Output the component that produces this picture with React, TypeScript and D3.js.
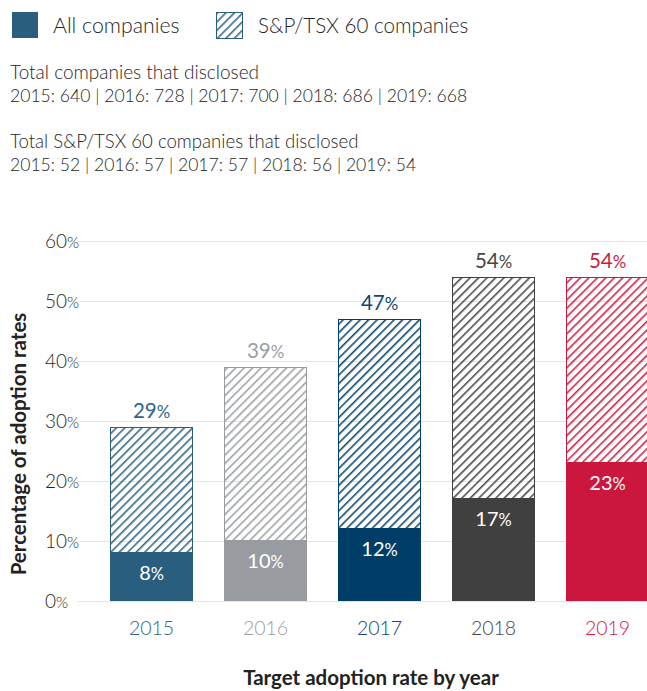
import React from "react";
import * as d3 from "d3";

const years = ["2015", "2016", "2017", "2018", "2019"];
const allCompanies = [8, 10, 12, 17, 23];
const tsx60Companies = [29, 39, 47, 54, 54];
const totalDisclosed = [640, 728, 700, 686, 668];
const tsxDisclosed = [52, 57, 57, 56, 54];
const yTicks = [0, 10, 20, 30, 40, 50, 60];

const fillColor: Record<string, string> = {
  "2015": "#2a5e7f",
  "2016": "#989ca0",
  "2017": "#003e68",
  "2018": "#404040",
  "2019": "#cb173d",
};
const textColor: Record<string, string> = {
  "2015": "#2f6588",
  "2016": "#9a9ea1",
  "2017": "#124670",
  "2018": "#464646",
  "2019": "#d01c43",
};

const W = 647;
const H = 691;
const FONT = "Lato, 'Open Sans', sans-serif";
const HATCH = 6;

function Pct({ v, size }: { v: number; size: number }) {
  return (
    <>
      {v}
      <tspan fontSize={size * 0.82}>%</tspan>
    </>
  );
}

export default function App() {
  const y = d3.scaleLinear().domain([0, 60]).range([601, 241]);
  const x = d3
    .scaleBand<string>()
    .domain(years)
    .range([94.5, 664.5])
    .paddingInner(0.272)
    .paddingOuter(0.136);
  const bw = x.bandwidth();

  const line1 = years.map((yr, i) => `${yr}: ${totalDisclosed[i]}`).join(" | ");
  const line2 = years.map((yr, i) => `${yr}: ${tsxDisclosed[i]}`).join(" | ");

  return (
    <svg
      width={W}
      height={H}
      style={{ position: "absolute", left: 0, top: 0, background: "#fff" }}
      fontFamily={FONT}
    >
      <defs>
        {years.map((yr) => (
          <pattern
            key={yr}
            id={`hatch-${yr}`}
            patternUnits="userSpaceOnUse"
            width={HATCH}
            height={HATCH}
            patternTransform="rotate(45)"
          >
            <line x1={0.8} y1={0} x2={0.8} y2={HATCH} stroke={fillColor[yr]} strokeWidth={1.5} />
          </pattern>
        ))}
      </defs>

      {/* Legend */}
      <rect x={12} y={12} width={26} height={26} fill={fillColor["2015"]} />
      <text x={53} y={33} fontSize={21.3} fill="#262626" fontWeight={300}>
        All companies
      </text>
      <rect x={216.5} y={12.5} width={26} height={26} fill="url(#hatch-2015)" stroke={fillColor["2015"]} strokeWidth={1} />
      <text x={258} y={33} fontSize={20.6} fill="#262626" fontWeight={300}>
        S&amp;P/TSX 60 companies
      </text>

      {/* Header notes */}
      <g fill="#262626" fontWeight={300}>
        <text x={10} y={79} fontSize={19}>Total companies that disclosed</text>
        <text x={10} y={102} fontSize={17.6}>{line1}</text>
        <text x={10} y={148} fontSize={18.6}>Total S&amp;P/TSX 60 companies that disclosed</text>
        <text x={10} y={171} fontSize={17.6}>{line2}</text>
      </g>

      {/* Gridlines + y ticks */}
      {yTicks.map((t) => (
        <g key={t}>
          <line x1={78} x2={W} y1={y(t) + 0.5} y2={y(t) + 0.5} stroke="#e4e4e4" strokeWidth={1} />
          <text x={45} y={y(t) + 7} fontSize={19} fill="#1e1e1e" fontWeight={300}>
            <Pct v={t} size={19} />
          </text>
        </g>
      ))}

      {/* Bars */}
      {years.map((yr, i) => {
        const x0 = x(yr)!;
        const cx = x0 + bw / 2;
        const yTot = y(tsx60Companies[i]);
        const yAll = y(allCompanies[i]);
        return (
          <g key={yr}>
            <rect
              x={x0 + 0.5}
              y={yTot + 0.5}
              width={bw - 1}
              height={yAll - yTot - 1}
              fill={`url(#hatch-${yr})`}
              stroke={fillColor[yr]}
              strokeWidth={1}
            />
            <rect x={x0} y={yAll} width={bw} height={y(0) - yAll} fill={fillColor[yr]} />
            <text x={cx} y={yTot - 9} textAnchor="middle" fontSize={20.5} fill={textColor[yr]}>
              <Pct v={tsx60Companies[i]} size={20.5} />
            </text>
            <text x={cx} y={yAll + 27} textAnchor="middle" fontSize={20} fill="#fff">
              <Pct v={allCompanies[i]} size={20} />
            </text>
            <text x={cx} y={635} textAnchor="middle" fontSize={19.5} fill={textColor[yr]} fontWeight={300}>
              {yr}
            </text>
          </g>
        );
      })}

      {/* Axis titles */}
      <text
        transform={`translate(26, 444) rotate(-90)`}
        textAnchor="middle"
        fontSize={20.5}
        fontWeight="bold"
        fill="#222"
      >
        Percentage of adoption rates
      </text>
      <text x={371} y={685} textAnchor="middle" fontSize={20.5} fontWeight="bold" fill="#222">
        Target adoption rate by year
      </text>
    </svg>
  );
}
